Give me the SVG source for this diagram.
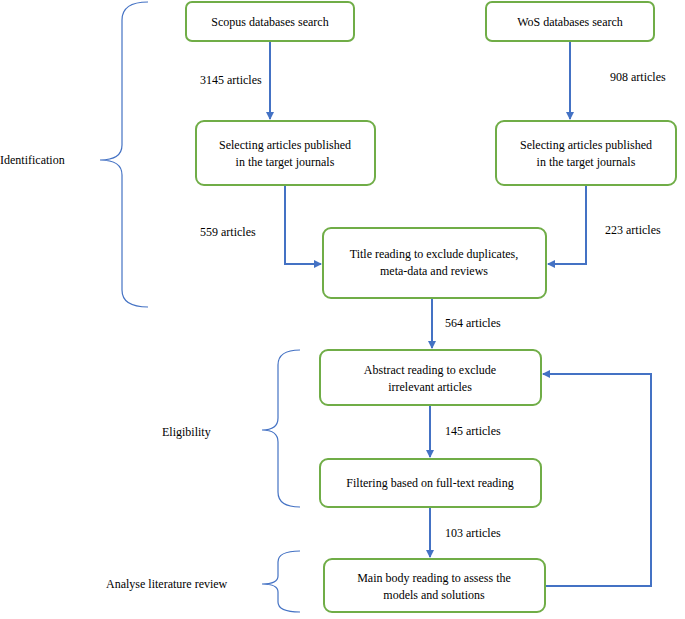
<svg xmlns="http://www.w3.org/2000/svg" width="685" height="619" viewBox="0 0 685 619">
<style>
.box{fill:#fff;stroke:#70ad47;stroke-width:2}
.t{font-family:"Liberation Serif",serif;font-size:12px;fill:#000}
.c{stroke:#4472c4;stroke-width:2;fill:none}
.b{stroke:#4472c4;stroke-width:1.2;fill:none}
</style>
<defs><marker id="a" markerWidth="8" markerHeight="8" refX="7" refY="4" orient="auto" markerUnits="userSpaceOnUse"><path d="M0,0 L8,4 L0,8 z" fill="#4472c4"/></marker></defs>
<g id="connectors">
<path class="c" d="M270,41 V119" marker-end="url(#a)"/>
<path class="c" d="M570,41 V119" marker-end="url(#a)"/>
<path class="c" d="M285,185 V264 H321" marker-end="url(#a)"/>
<path class="c" d="M586,185 V264 H548" marker-end="url(#a)"/>
<path class="c" d="M432,298 V348" marker-end="url(#a)"/>
<path class="c" d="M430,405 V457" marker-end="url(#a)"/>
<path class="c" d="M430,507 V557" marker-end="url(#a)"/>
<path class="c" d="M545,586 H651 V374 H543" marker-end="url(#a)"/>
</g>
<g id="braces">
<path class="b" d="M148,2 Q122,2 122,20 V145 Q122,160 100,160 Q122,160 122,175 V290 Q122,307 148,307"/>
<path class="b" d="M300,350 Q278,350 278,365 V418 Q278,430 262,430 Q278,430 278,442 V492 Q278,507 300,507"/>
<path class="b" d="M300,551 Q278,551 278,562 V576 Q278,584 262,584 Q278,584 278,592 V602 Q278,612 300,612"/>
</g>
<text class="t" x="0" y="164">Identification</text>
<text class="t" x="162" y="436">Eligibility</text>
<text class="t" x="106" y="588">Analyse literature review</text>
<g id="n1"><rect class="box" x="186" y="2" width="168" height="39" rx="6"/><text class="t" x="270" y="26" text-anchor="middle">Scopus databases search</text></g>
<g id="n2"><rect class="box" x="486" y="2" width="168" height="39" rx="6"/><text class="t" x="570" y="26" text-anchor="middle">WoS databases search</text></g>
<g id="n3"><rect class="box" x="196" y="121" width="179" height="64" rx="8"/><text class="t" x="285" y="149" text-anchor="middle">Selecting articles published</text><text class="t" x="285" y="166" text-anchor="middle">in the target journals</text></g>
<g id="n4"><rect class="box" x="496" y="121" width="180" height="64" rx="8"/><text class="t" x="586" y="149" text-anchor="middle">Selecting articles published</text><text class="t" x="586" y="166" text-anchor="middle">in the target journals</text></g>
<g id="n5"><rect class="box" x="323" y="228" width="223" height="70" rx="8"/><text class="t" x="434" y="258" text-anchor="middle">Title reading to exclude duplicates,</text><text class="t" x="434" y="275" text-anchor="middle">meta-data and reviews</text></g>
<g id="n6"><rect class="box" x="320" y="350" width="221" height="55" rx="8"/><text class="t" x="430" y="374" text-anchor="middle">Abstract reading to exclude</text><text class="t" x="430" y="391" text-anchor="middle">irrelevant articles</text></g>
<g id="n7"><rect class="box" x="320" y="459" width="221" height="48" rx="8"/><text class="t" x="430" y="487" text-anchor="middle">Filtering based on full-text reading</text></g>
<g id="n8"><rect class="box" x="324" y="559" width="221" height="53" rx="8"/><text class="t" x="434" y="582" text-anchor="middle">Main body reading to assess the</text><text class="t" x="434" y="599" text-anchor="middle">models and solutions</text></g>
<g id="labels">
<text class="t" x="200" y="84">3145 articles</text>
<text class="t" x="610" y="81">908 articles</text>
<text class="t" x="200" y="236">559 articles</text>
<text class="t" x="605" y="234">223 articles</text>
<text class="t" x="445" y="327">564 articles</text>
<text class="t" x="445" y="435">145 articles</text>
<text class="t" x="445" y="537">103 articles</text>
</g>
</svg>
